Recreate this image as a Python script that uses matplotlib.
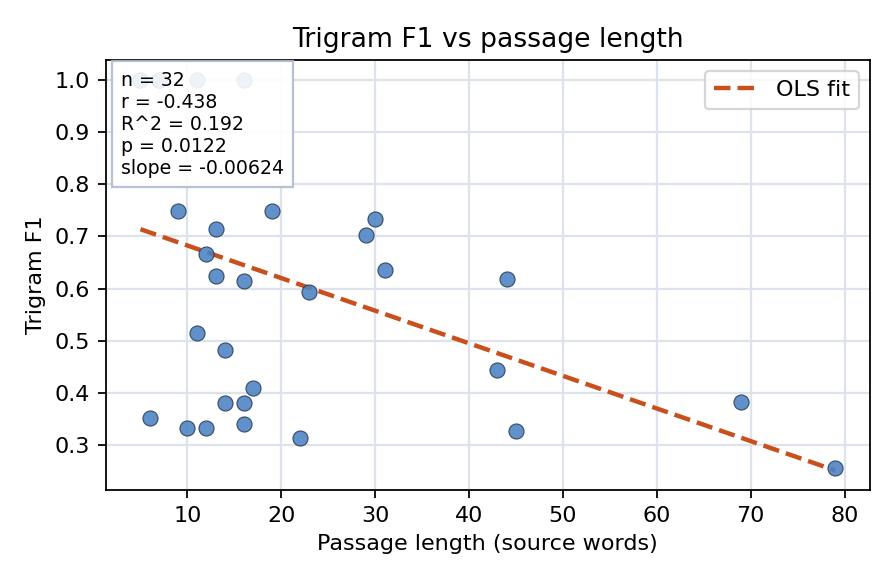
import numpy as np
from matplotlib import pyplot as plt

# passage length (source words) and trigram F1 per passage
lengths = [5, 7, 7, 11, 16, 6, 9, 10, 11, 12, 12, 13, 13, 14, 14, 16, 16, 16,
           17, 19, 22, 23, 29, 30, 31, 43, 44, 45, 69, 79, 5, 7]
f1 = [1.0, 1.0, 1.0, 1.0, 1.0, 0.352, 0.748, 0.333, 0.516, 0.667, 0.333, 0.714,
      0.625, 0.482, 0.381, 0.615, 0.381, 0.340, 0.410, 0.748, 0.314, 0.594,
      0.703, 0.733, 0.636, 0.445, 0.619, 0.327, 0.383, 0.256, 1.0, 1.0]

slope = -0.00624
intercept = 0.745
stats = ["n = 32", "r = -0.438", "R^2 = 0.192", "p = 0.0122", "slope = -0.00624"]

fig, ax = plt.subplots(figsize=(5.6, 3.65), dpi=160)

ax.scatter(lengths, f1, s=46, color="#4a82c3", edgecolor="#2b3a50",
           linewidth=0.5, alpha=0.88, zorder=4)

xs = np.array([min(lengths), max(lengths)])
ax.plot(xs, intercept + slope * xs, linestyle="--", color="#c94f1c",
        linewidth=2, label="OLS fit", zorder=3)

ax.grid(True, color="#dde3ec", linewidth=1)
ax.set_axisbelow(True)
ax.set_xlabel("Passage length (source words)")
ax.set_ylabel("Trigram F1")
ax.set_title("Trigram F1 vs passage length", fontsize=12)
ax.legend(loc="upper right", fontsize=10)

ax.text(0.02, 0.975, "\n".join(stats), transform=ax.transAxes, va="top",
        ha="left", fontsize=8.5, zorder=5,
        bbox=dict(boxstyle="square,pad=0.5", facecolor="white",
                  edgecolor="#b0bccc", alpha=0.9))

fig.subplots_adjust(left=0.118, right=0.971, top=0.897, bottom=0.161)
fig.savefig("out.png")
